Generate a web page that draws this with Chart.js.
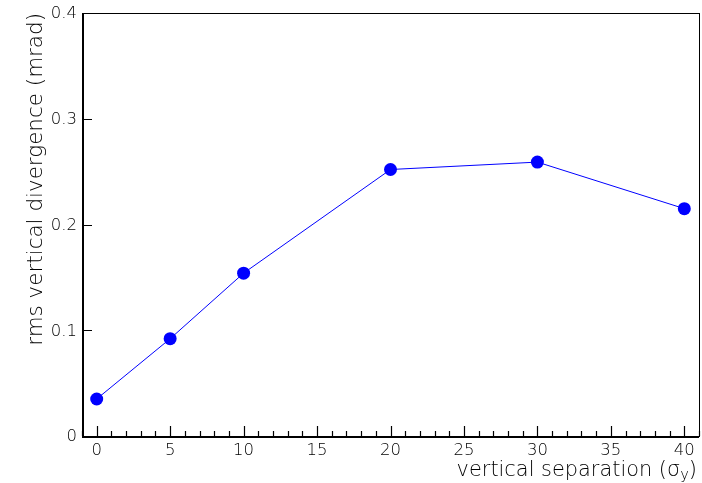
<!DOCTYPE html>
<html><head><meta charset="utf-8">
<script src="https://cdn.jsdelivr.net/npm/chart.js@4"></script>
<style>html,body{margin:0;padding:0;background:#fff}#w{width:702px;height:483px}</style>
</head><body><div id="w"><canvas id="c"></canvas></div>
<script>
const separation = [0, 5, 10, 20, 30, 40];
const divergence = [0.035, 0.092, 0.154, 0.252, 0.259, 0.215];
const xTicks = [0, 5, 10, 15, 20, 25, 30, 35, 40];
const yTicks = [0, 0.1, 0.2, 0.3, 0.4];
const yTickLabels = ['0', '0.1', '0.2', '0.3', '0.4'];
const xTitle = 'vertical separation (σ';
const xTitleSub = 'y';
const yTitle = 'rms vertical divergence (mrad)';

const FAM = '"DejaVu Sans", sans-serif';
const W = '200';

function fitSize(ctx, text, target) {
  ctx.font = W + ' 100px ' + FAM;
  return 100 * target / ctx.measureText(text).width;
}

const frame = {
  id: 'frame',
  afterDraw(chart) {
    const ctx = chart.ctx, a = chart.chartArea;
    const xs = chart.scales.x, ys = chart.scales.y;
    ctx.save();
    ctx.strokeStyle = '#000';
    ctx.lineWidth = 1;
    ctx.strokeRect(a.left + 0.5, a.top + 0.5, a.right - a.left, a.bottom - a.top);
    ctx.lineWidth = 2;
    ctx.beginPath();
    ctx.moveTo(a.left + 1, a.top); ctx.lineTo(a.left + 1, a.bottom + 1); ctx.lineTo(a.right, a.bottom + 1);
    ctx.stroke();
    ctx.lineWidth = 1.2;
    ctx.beginPath();
    for (let v = -1; v <= 41; v++) {
      const px = Math.round(xs.getPixelForValue(v)) + 0.5;
      const len = (v % 5 === 0) ? 10 : 5;
      ctx.moveTo(px, a.bottom); ctx.lineTo(px, a.bottom - len);
    }
    yTicks.forEach(v => {
      const py = Math.round(ys.getPixelForValue(v)) + 0.5;
      ctx.moveTo(a.left, py); ctx.lineTo(a.left + 10, py);
    });
    ctx.stroke();
    ctx.fillStyle = '#000';
    const tickSize = fitSize(ctx, '25', 21);
    ctx.font = W + ' ' + tickSize + 'px ' + FAM;
    ctx.textAlign = 'center'; ctx.textBaseline = 'alphabetic';
    xTicks.forEach(v => ctx.fillText(String(v), xs.getPixelForValue(v), a.bottom + 19));
    ctx.textAlign = 'right'; ctx.textBaseline = 'middle';
    yTicks.forEach((v, i) => ctx.fillText(yTickLabels[i], a.left - 5, ys.getPixelForValue(v) + 1));
    // x title
    const ts = fitSize(ctx, xTitle + ')', 232);
    const mainF = W + ' ' + ts + 'px ' + FAM;
    const subF = W + ' ' + (ts * 0.7) + 'px ' + FAM;
    ctx.textBaseline = 'alphabetic';
    ctx.textAlign = 'left';
    ctx.font = mainF;
    const mainW = ctx.measureText(xTitle).width;
    const parW = ctx.measureText(')').width;
    ctx.font = subF; const subW = ctx.measureText(xTitleSub).width;
    const right = 697;
    const x0 = right - parW - subW - mainW;
    ctx.font = mainF; ctx.fillText(xTitle, x0, 476);
    ctx.font = subF; ctx.fillText(xTitleSub, x0 + mainW, 479);
    ctx.font = mainF; ctx.fillText(')', x0 + mainW + subW, 476);
    // y title
    const ys2 = fitSize(ctx, yTitle, 333);
    ctx.font = W + ' ' + ys2 + 'px ' + FAM;
    ctx.save();
    ctx.translate(42, a.top);
    ctx.rotate(-Math.PI / 2);
    ctx.textAlign = 'right';
    ctx.fillText(yTitle, 0, 0);
    ctx.restore();
    ctx.restore();
  }
};

new Chart(document.getElementById('c'), {
  type: 'line',
  data: {
    datasets: [{
      data: separation.map((x, i) => ({x, y: divergence[i]})),
      borderColor: '#0000ff',
      backgroundColor: '#0000ff',
      borderWidth: 1,
      pointRadius: 6.5,
      pointHoverRadius: 6.5,
      pointBorderWidth: 0,
      tension: 0
    }]
  },
  plugins: [frame],
  options: {
    responsive: true,
    maintainAspectRatio: false,
    animation: false,
    events: [],
    layout: { autoPadding: false, padding: { left: 0, right: 3, top: 13, bottom: 0 } },
    plugins: { legend: { display: false }, tooltip: { enabled: false } },
    scales: {
      x: {
        type: 'linear', min: -1, max: 41,
        grid: { display: false }, border: { display: false },
        ticks: { display: false },
        afterFit(s) { s.height = 47; }
      },
      y: {
        type: 'linear', min: 0, max: 0.4,
        grid: { display: false }, border: { display: false },
        ticks: { display: false },
        afterFit(s) { s.width = 82; }
      }
    }
  }
});
</script>
</body></html>
